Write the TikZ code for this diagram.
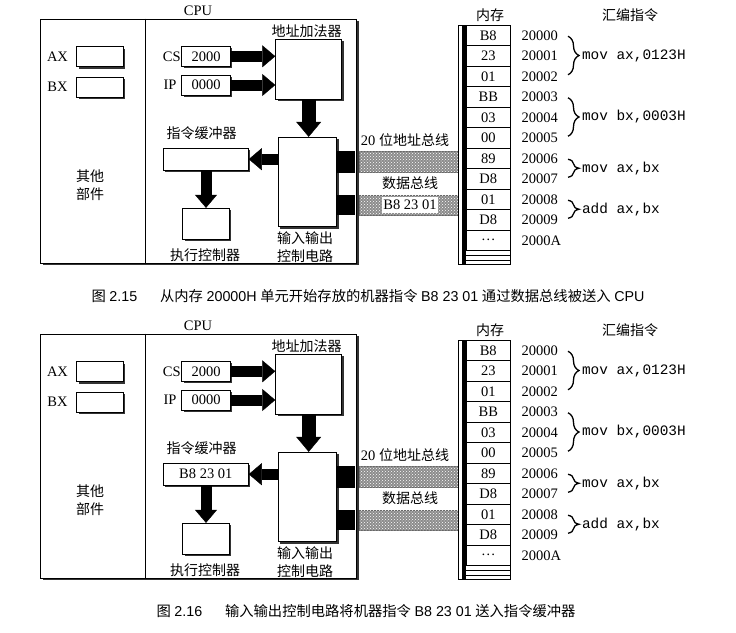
\documentclass[tikz,border=0pt]{standalone}
\usepackage{fontspec}
\setmainfont{Liberation Serif}
\setmonofont{Liberation Mono}
\newfontfamily\cjk{Noto Sans CJK SC}
\newfontfamily\capfont{Liberation Sans}
\newcommand\zhfont{\fontsize{14}{18}\selectfont\cjk}
\usetikzlibrary{arrows.meta,shadows,patterns,decorations.pathreplacing}
\begin{document}
\begin{tikzpicture}[x=1pt,y=-1pt,
    font=\fontsize{14.5}{17}\selectfont,
    box/.style={draw,line width=0.9pt,fill=white,inner sep=0pt,
      drop shadow={shadow xshift=1.8pt,shadow yshift=-1.8pt,fill=black!80,opacity=1}},
    zh/.style={font=\zhfont},
    fat/.style={line width=11pt,-{Triangle[width=22pt,length=13pt,line width=0.4pt]}},
    fatv/.style={line width=14pt,-{Triangle[width=25pt,length=15pt,line width=0.4pt]}},
    port/.style={fill=black,inner sep=0pt,minimum width=18.3pt},
    bus/.style={draw=black!60,line width=0.6pt,fill=black!45,inner sep=0pt,minimum width=99pt,
      postaction={pattern=crosshatch dots,pattern color=white}},
    cell/.style={draw,line width=0.8pt,inner sep=0pt,minimum width=44.5pt,minimum height=20.5pt},
    asm/.style={font=\fontsize{14.4}{16}\selectfont\ttfamily,anchor=west},
    brc/.style={decorate,decoration={brace,amplitude=11pt},line width=1.3pt}]
  \useasboundingbox (0,0) rectangle (736,632);
  \foreach \dy/\buf in {0/{},315/{B8 23 01}} {
    \begin{scope}[shift={(0,\dy)}]
      \node[box,minimum width=316pt,minimum height=244pt] (cpu\dy) at (198.7,141) {};
      \draw[line width=0.9pt] ([xshift=105pt]cpu\dy.north west) -- ([xshift=105pt]cpu\dy.south west);
      \node (cpul\dy) at (198,11) {CPU};
      \foreach \r/\t/\y in {ax/AX/56.7,bx/BX/87} {
        \node[box,minimum width=46.6pt,minimum height=20pt] (\r\dy) at (100,\y) {};
        \node (\r l\dy) at (57.5,\y) {\t};
      }
      \node[zh,align=center] (misc\dy) at (90,185) {其他\\部件};
      \node[box,minimum width=48.3pt,minimum height=19.3pt] (cs\dy) at (206,56.3) {2000};
      \node (csl\dy) at (171.7,57) {CS};
      \node[box,minimum width=48.3pt,minimum height=20pt] (ip\dy) at (206,85) {0000};
      \node (ipl\dy) at (170,85) {IP};
      \node[box,minimum width=66pt,minimum height=60pt] (add\dy) at (308.7,69.3) {};
      \node[zh] (addl\dy) at (306.7,31.5) {地址加法器};
      \node[box,minimum width=58.4pt,minimum height=89.4pt] (io\dy) at (307.5,182) {};
      \node[zh,align=center] (iol\dy) at (305,247) {输入输出\\控制电路};
      \node[box,minimum width=85pt,minimum height=21.7pt] (buf\dy) at (205.8,159.2) {\buf};
      \node[zh] (bufl\dy) at (201.7,133.3) {指令缓冲器};
      \node[box,minimum width=46.6pt,minimum height=31pt] (exe\dy) at (206,223.8) {};
      \node[zh] (exel\dy) at (205,255) {执行控制器};
      \draw[fat] (cs\dy.east) -- (cs\dy.east -| add\dy.west);
      \draw[fat] (ip\dy.east) -- (ip\dy.east -| add\dy.west);
      \draw[fatv] (add\dy.south) -- (add\dy.south |- io\dy.north);
      \draw[fat] (io\dy.west |- buf\dy) -- (buf\dy.east);
      \draw[fat] (buf\dy.south -| exe\dy) -- (exe\dy.north);
      \node[port,minimum height=22pt] (ap\dy) at (345.9,161.7) {};
      \node[port,minimum height=20pt] (dp\dy) at (345.9,205) {};
      \node[bus,minimum height=21.7pt] (ab\dy) at (408.8,161.8) {};
      \node[bus,minimum height=20pt] (db\dy) at (408.8,205) {};
      \node (abl\dy) at (405,140) {20 {\zhfont 位地址总线}};
      \node[zh] (dbl\dy) at (410,183.3) {数据总线};
      \node[zh] (meml\dy) at (490,15) {内存};
      \node[zh] (asml\dy) at (630,15) {汇编指令};
      \draw[line width=0.8pt] (458.3,25) rectangle (510.5,264.3);
      \fill (462,25) rectangle (466,264.3);
      \foreach \v [count=\k from 0] in {B8,23,01,BB,03,00,89,D8,01,D8,\dots}
        \node[cell] (mem\dy-\k) at (488.25,{35.25+20.5*\k}) {\v};
      \foreach \yy in {255.5,260}
        \draw[line width=0.8pt] (466,\yy) -- (510.5,\yy);
      \foreach \a [count=\k from 0] in {20000,20001,20002,20003,20004,20005,20006,20007,20008,20009,2000A}
        \node[anchor=west] (ad\dy-\k) at (518,{35.25+20.5*\k}) {\a};
      \foreach \s/\e/\t in {0/2/{mov ax,0123H},3/5/{mov bx,0003H},6/7/{mov ax,bx},8/9/{add ax,bx}} {
        \draw[brc] (568,{36.25+20.5*\s}) -- (568,{33.75+20.5*\e});
        \node[asm] (op\dy-\s) at (578.5,{35+10.25*(\s+\e)}) {\t};
      }
    \end{scope}
  }
  \node[fill=white,inner sep=1pt,minimum height=16pt] (dval) at (410,205) {B8 23 01};
  \node[font=\fontsize{14.3}{16}\selectfont] (cap1) at (368,296)
    {{\cjk 图} {\capfont 2.15}\hspace{1.6em}{\cjk 从内存} {\capfont 20000H} {\cjk 单元开始存放的机器指令} {\capfont B8 23 01} {\cjk 通过数据总线被送入} {\capfont CPU}};
  \node[font=\fontsize{14.3}{16}\selectfont] (cap2) at (366,611)
    {{\cjk 图} {\capfont 2.16}\hspace{1.6em}{\cjk 输入输出控制电路将机器指令} {\capfont B8 23 01} {\cjk 送入指令缓冲器}};
\end{tikzpicture}
\end{document}
